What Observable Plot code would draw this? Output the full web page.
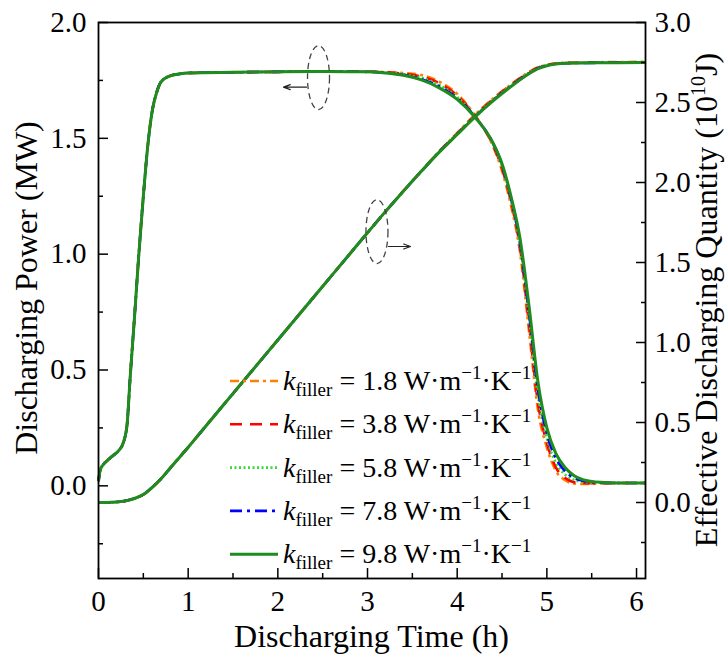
<!DOCTYPE html>
<html><head><meta charset="utf-8">
<script src="https://cdn.jsdelivr.net/npm/d3@7"></script>
<script src="https://cdn.jsdelivr.net/npm/@observablehq/plot@0.6"></script>
<style>
body{margin:0;background:#fff}
#chart{width:728px;height:657px}
</style>
</head><body><div id="chart"></div>
<script>
// ---------- data ----------
const tPower = [0, 0.02, 0.05, 0.1, 0.16, 0.22, 0.28, 0.32, 0.35, 0.4, 0.45, 0.5, 0.55, 0.6, 0.65, 0.7, 0.8, 0.9, 1.0, 1.5, 2.0, 2.5, 3.0, 3.2, 3.4, 3.6, 3.8, 4.0, 4.2, 4.4, 4.5, 4.6, 4.7, 4.8, 4.9, 5.0, 5.1, 5.2, 5.3, 5.4, 5.6, 5.8, 6.1];
const power18 = [0.02, 0.07, 0.09, 0.11, 0.13, 0.15, 0.19, 0.27, 0.45, 0.72, 1.0, 1.25, 1.47, 1.62, 1.70, 1.745, 1.77, 1.778, 1.782, 1.785, 1.787, 1.788, 1.788, 1.786, 1.782, 1.773, 1.745, 1.692, 1.598, 1.465, 1.36, 1.21, 1.01, 0.67, 0.33, 0.165, 0.065, 0.025, 0.01, 0.008, 0.01, 0.012, 0.012];
const power38 = [0.02, 0.07, 0.09, 0.11, 0.13, 0.15, 0.19, 0.27, 0.45, 0.72, 1.0, 1.25, 1.47, 1.62, 1.70, 1.745, 1.77, 1.778, 1.782, 1.785, 1.787, 1.788, 1.788, 1.785, 1.779, 1.767, 1.738, 1.685, 1.596, 1.47, 1.37, 1.225, 1.03, 0.70, 0.36, 0.185, 0.08, 0.035, 0.016, 0.011, 0.011, 0.012, 0.012];
const power58 = [0.02, 0.07, 0.09, 0.11, 0.13, 0.15, 0.19, 0.27, 0.45, 0.72, 1.0, 1.25, 1.47, 1.62, 1.70, 1.745, 1.77, 1.778, 1.782, 1.785, 1.787, 1.788, 1.787, 1.784, 1.776, 1.761, 1.731, 1.679, 1.594, 1.475, 1.38, 1.235, 1.04, 0.73, 0.39, 0.205, 0.10, 0.05, 0.026, 0.017, 0.013, 0.012, 0.012];
const power78 = [0.02, 0.07, 0.09, 0.11, 0.13, 0.15, 0.19, 0.27, 0.45, 0.72, 1.0, 1.25, 1.47, 1.62, 1.70, 1.745, 1.77, 1.778, 1.782, 1.785, 1.787, 1.788, 1.787, 1.783, 1.774, 1.756, 1.724, 1.673, 1.592, 1.478, 1.385, 1.24, 1.05, 0.75, 0.42, 0.225, 0.12, 0.065, 0.035, 0.022, 0.014, 0.012, 0.012];
const power98 = [0.02, 0.07, 0.09, 0.11, 0.13, 0.15, 0.19, 0.27, 0.45, 0.72, 1.0, 1.25, 1.47, 1.62, 1.70, 1.745, 1.77, 1.778, 1.782, 1.785, 1.787, 1.788, 1.787, 1.782, 1.772, 1.752, 1.718, 1.668, 1.59, 1.48, 1.39, 1.25, 1.07, 0.78, 0.45, 0.25, 0.14, 0.08, 0.045, 0.027, 0.015, 0.012, 0.012];

const tEnergy = [0, 0.1, 0.2, 0.3, 0.4, 0.5, 0.6, 0.7, 0.8, 0.9, 1.0, 1.2, 1.4, 1.6, 1.8, 2.0, 2.2, 2.4, 2.6, 2.8, 3.0, 3.2, 3.4, 3.6, 3.8, 4.0, 4.2, 4.4, 4.6, 4.8, 4.9, 5.0, 5.1, 5.2, 5.4, 5.6, 5.8, 6.1];
const energy18 = [0, 0, 0.003, 0.01, 0.025, 0.05, 0.095, 0.15, 0.215, 0.28, 0.345, 0.48, 0.614, 0.748, 0.882, 1.016, 1.15, 1.284, 1.418, 1.552, 1.686, 1.818, 1.947, 2.072, 2.195, 2.31, 2.424, 2.525, 2.613, 2.69, 2.72, 2.736, 2.744, 2.748, 2.75, 2.752, 2.753, 2.754];
const energy38 = [0, 0, 0.003, 0.01, 0.025, 0.05, 0.095, 0.15, 0.215, 0.28, 0.345, 0.48, 0.614, 0.748, 0.882, 1.016, 1.15, 1.284, 1.418, 1.552, 1.686, 1.818, 1.947, 2.071, 2.194, 2.307, 2.42, 2.521, 2.61, 2.687, 2.718, 2.734, 2.743, 2.747, 2.749, 2.75, 2.751, 2.752];
const energy58 = [0, 0, 0.003, 0.01, 0.025, 0.05, 0.095, 0.15, 0.215, 0.28, 0.345, 0.48, 0.614, 0.748, 0.882, 1.016, 1.15, 1.284, 1.418, 1.552, 1.686, 1.818, 1.946, 2.071, 2.193, 2.305, 2.416, 2.517, 2.606, 2.684, 2.716, 2.733, 2.742, 2.746, 2.748, 2.749, 2.75, 2.751];
const energy78 = [0, 0, 0.003, 0.01, 0.025, 0.05, 0.095, 0.15, 0.215, 0.28, 0.345, 0.48, 0.614, 0.748, 0.882, 1.016, 1.15, 1.284, 1.418, 1.552, 1.686, 1.818, 1.946, 2.07, 2.191, 2.302, 2.413, 2.513, 2.603, 2.682, 2.714, 2.731, 2.741, 2.745, 2.747, 2.748, 2.749, 2.75];
const energy98 = [0, 0, 0.003, 0.01, 0.025, 0.05, 0.095, 0.15, 0.215, 0.28, 0.345, 0.48, 0.614, 0.748, 0.882, 1.016, 1.15, 1.284, 1.418, 1.552, 1.686, 1.818, 1.946, 2.07, 2.19, 2.30, 2.41, 2.51, 2.60, 2.68, 2.712, 2.73, 2.74, 2.745, 2.747, 2.748, 2.749, 2.75];

const seriesK = ["1.8", "3.8", "5.8", "7.8", "9.8"];
const seriesColors = ["#FF8000", "#FF0000", "#33DD33", "#0000FF", "#1E8C1E"];
const seriesDash = ["9,4,3,4", "12,8", "2,2.5", "12,5,3,5", null];
const seriesWidth = [2.6, 2.6, 2.6, 2.6, 3];
const powerSeries = [power18, power38, power58, power78, power98];
const energySeries = [energy18, energy38, energy58, energy78, energy98];

const xTicks = [0, 1, 2, 3, 4, 5, 6];
const xMinor = [0.5, 1.5, 2.5, 3.5, 4.5, 5.5];
const powerTicks = [0, 0.5, 1.0, 1.5, 2.0];
const powerMinor = [-0.25, 0.25, 0.75, 1.25, 1.75];
const energyTicks = [0, 0.5, 1.0, 1.5, 2.0, 2.5, 3.0];
const energyMinor = [-0.25, 0.25, 0.75, 1.25, 1.75, 2.25, 2.75];
const xDomain = [0, 6.1];
const powerDomain = [-0.4, 2.0];
const energyDomain = [-0.475, 3.0];

// annotation anchors (data units): ellipse centres and arrows
const ellipseAnno = [{t: 2.459, power: 1.760}, {t: 3.111, energy: 1.69}];
const arrowAnno = [{t1: 2.32, t2: 2.063, power: 1.721}, {t1: 3.234, t2: 3.479, energy: 1.60}];

// ---------- helpers ----------
const toP = e => powerDomain[0] + (e - energyDomain[0]) * (powerDomain[1] - powerDomain[0]) / (energyDomain[1] - energyDomain[0]);
const fromP = p => energyDomain[0] + (p - powerDomain[0]) * (energyDomain[1] - energyDomain[0]) / (powerDomain[1] - powerDomain[0]);

const FONT = "'Liberation Serif', 'Times New Roman', serif";

const lineMarks = [];
seriesK.forEach((k, i) => {
  const pData = tPower.map((t, j) => ({t, v: powerSeries[i][j]}));
  const eData = tEnergy.map((t, j) => ({t, v: toP(energySeries[i][j])}));
  const opts = {x: "t", y: "v", stroke: seriesColors[i], strokeWidth: seriesWidth[i], curve: "monotone-x", strokeLinecap: "butt"};
  if (seriesDash[i]) opts.strokeDasharray = seriesDash[i];
  lineMarks.push(Plot.line(pData, opts));
  lineMarks.push(Plot.line(eData, opts));
});

const annoArrows = arrowAnno.map(a => ({
  x1: a.t1, x2: a.t2,
  y: a.power !== undefined ? a.power : toP(a.energy)
}));

const ellipseMark = (index, scales) => {
  const g = d3.create("svg:g");
  ellipseAnno.forEach(e => {
    const cy = e.power !== undefined ? e.power : toP(e.energy);
    g.append("ellipse")
      .attr("cx", scales.x(e.t)).attr("cy", scales.y(cy))
      .attr("rx", 11).attr("ry", 32)
      .attr("fill", "none").attr("stroke", "#444")
      .attr("stroke-width", 1.3).attr("stroke-dasharray", "6,4");
  });
  return g.node();
};

const chart = Plot.plot({
  width: 728,
  height: 657,
  marginLeft: 98,
  marginRight: 83,
  marginTop: 22,
  marginBottom: 79,
  style: {fontFamily: FONT, fontSize: "29px", color: "black", background: "white"},
  x: {domain: xDomain},
  y: {domain: powerDomain},
  marks: [
    ...lineMarks,
    ellipseMark,
    Plot.arrow(annoArrows, {x1: "x1", x2: "x2", y1: "y", y2: "y", stroke: "#222", strokeWidth: 1.2, headLength: 9, headAngle: 40}),
    Plot.frame({stroke: "black", strokeWidth: 1.8}),
    // ticks (inward)
    Plot.axisX(xTicks, {tickSize: -10, text: null, strokeWidth: 1.5}),
    Plot.axisX(xMinor, {tickSize: -5, text: null, strokeWidth: 1.5}),
    Plot.axisX(xTicks, {tickSize: 0, tickPadding: 12, fontSize: 29, label: null, tickFormat: d => String(d)}),
    Plot.axisY(powerTicks, {anchor: "left", tickSize: -10, text: null, strokeWidth: 1.5}),
    Plot.axisY(powerMinor, {anchor: "left", tickSize: -5, text: null, strokeWidth: 1.5}),
    Plot.axisY(powerTicks, {anchor: "left", tickSize: 0, tickPadding: 12, fontSize: 29, label: null, tickFormat: d => d.toFixed(1)}),
    Plot.axisY(energyTicks.map(toP), {anchor: "right", tickSize: -10, text: null, strokeWidth: 1.5}),
    Plot.axisY(energyMinor.map(toP), {anchor: "right", tickSize: -5, text: null, strokeWidth: 1.5}),
    Plot.axisY(energyTicks.map(toP), {anchor: "right", tickSize: 0, tickPadding: 9, fontSize: 29, label: null, tickFormat: d => fromP(d).toFixed(1)})
  ]
});

const svg = d3.select(chart);

// axis titles
svg.append("text")
  .attr("x", 371.5).attr("y", 647)
  .attr("text-anchor", "middle")
  .style("font-family", FONT).style("font-size", "32px").attr("fill", "black")
  .text("Discharging Time (h)");

svg.append("text")
  .attr("transform", "translate(37,288) rotate(-90)")
  .attr("text-anchor", "middle")
  .style("font-family", FONT).style("font-size", "32px").attr("fill", "black")
  .text("Discharging Power (MW)");

const rt = svg.append("text")
  .attr("transform", "translate(717,300) rotate(-90)")
  .attr("text-anchor", "middle")
  .style("font-family", FONT).style("font-size", "32px").attr("fill", "black");
rt.append("tspan").text("Effective Discharging Quantity (10");
rt.append("tspan").attr("dy", -12).style("font-size", "20px").text("10");
rt.append("tspan").attr("dy", 12).text("J)");

// legend
const legend = svg.append("g").attr("text-anchor", "start");
const legY0 = 381, legStep = 43.3;
seriesK.forEach((k, i) => {
  const y = legY0 + i * legStep;
  const ln = legend.append("line")
    .attr("x1", 230).attr("x2", 278).attr("y1", y).attr("y2", y)
    .attr("stroke", seriesColors[i]).attr("stroke-width", seriesWidth[i]);
  if (seriesDash[i]) ln.attr("stroke-dasharray", seriesDash[i]);
  const tx = legend.append("text")
    .attr("x", 283).attr("y", y + 9)
    .attr("text-anchor", "start")
    .style("font-family", FONT).style("font-size", "28px").attr("fill", "black");
  tx.append("tspan").style("font-style", "italic").text("k");
  tx.append("tspan").attr("dy", 6).style("font-size", "19px").text("filler");
  tx.append("tspan").attr("dy", -6).text(" = " + k + " W\u00B7m");
  tx.append("tspan").attr("dy", -11).style("font-size", "19px").text("\u22121");
  tx.append("tspan").attr("dy", 11).text("\u00B7K");
  tx.append("tspan").attr("dy", -11).style("font-size", "19px").text("\u22121");
});

document.getElementById("chart").appendChild(chart);
</script>
</body></html>
